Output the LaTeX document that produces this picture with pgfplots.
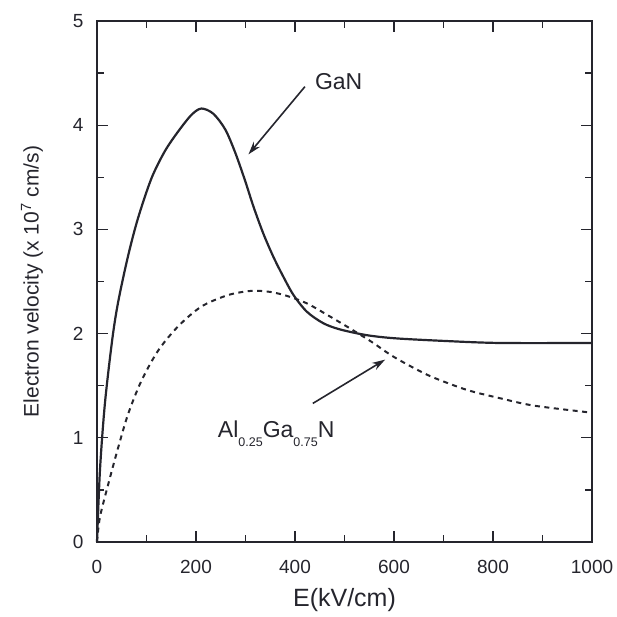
\documentclass[border=0pt]{standalone}
\usepackage{pgfplots}
\pgfplotsset{compat=1.18}
\usetikzlibrary{arrows.meta}
\usepackage{fontspec}
\setmainfont{Liberation Sans}
\definecolor{ink}{HTML}{25252D}
\begin{document}
\begin{tikzpicture}
\useasboundingbox (-97pt,-74pt) rectangle (520pt,542pt);
\begin{axis}[
  at={(0,0)}, anchor=south west,
  scale only axis, width=495pt, height=521pt,
  xmin=0, xmax=1000, ymin=0, ymax=5,
  xtick={0,200,...,1000}, ytick={0,1,...,5},
  minor xtick={100,300,...,900}, minor ytick={0.5,1.5,...,4.5},
  tick align=inside,
  major tick length=11pt, minor tick length=7pt,
  every tick/.style={ink, line width=1.2pt},
  axis line style={ink, line width=1.5pt},
  /pgf/number format/assume math mode=true,
  /pgf/number format/set thousands separator={},
  ticklabel style={font=\fontsize{19}{22}\selectfont, text=ink},
  xticklabel style={yshift=-15pt},
  yticklabel style={xshift=-10pt},
  xlabel={E(kV/cm)},
  ylabel={Electron velocity (x 10\textsuperscript{7} cm/s)},
  xlabel style={font=\fontsize{25}{28}\selectfont, text=ink, yshift=-8pt},
  ylabel style={font=\fontsize{21}{24}\selectfont, text=ink, yshift=23pt},
  clip=false,
]
% GaN
\addplot[ink, line width=2.2pt, smooth, tension=0.5] coordinates {
(0,0) (6,0.69) (16,1.33) (31,1.95) (43,2.31) (63,2.75) (83,3.11) (110,3.49)
(137,3.75) (164,3.94) (191,4.10) (211,4.16) (235,4.11) (259,3.96) (279,3.74)
(299,3.47) (316,3.22) (336,2.96) (356,2.74) (376,2.55) (397,2.37) (424,2.21)
(457,2.10) (491,2.04) (545,1.985) (602,1.955) (700,1.93) (814,1.91) (1000,1.91)
};
% AlGaN
\addplot[ink, line width=2pt, dash pattern=on 5pt off 4.5pt, smooth, tension=0.5] coordinates {
(0,0) (6,0.24) (23,0.56) (43,0.91) (63,1.23) (90,1.55) (124,1.84) (164,2.07)
(211,2.26) (265,2.37) (312,2.41) (350,2.40) (385,2.36) (424,2.29) (465,2.18)
(511,2.05) (555,1.92) (595,1.79) (640,1.67) (679,1.58) (747,1.46) (814,1.38)
(881,1.31) (983,1.25) (1000,1.24)
};
\draw[-{Stealth[length=13pt,width=8pt]}, ink, line width=1.6pt] (axis cs:420,4.37) -- (axis cs:306,3.72);
\draw[-{Stealth[length=13pt,width=8pt]}, ink, line width=1.6pt] (axis cs:436,1.33) -- (axis cs:582,1.75);
\node[anchor=base west, inner sep=0pt, text=ink, font=\fontsize{23}{26}\selectfont] at (axis cs:440,4.34) {GaN};
\node[anchor=base west, inner sep=0pt, text=ink, font=\fontsize{23}{26}\selectfont] at (axis cs:244,1.0)
  {Al\raisebox{-9pt}{\fontsize{12.5}{14}\selectfont 0.25}Ga\raisebox{-9pt}{\fontsize{12.5}{14}\selectfont 0.75}N};
\end{axis}
\end{tikzpicture}
\end{document}
